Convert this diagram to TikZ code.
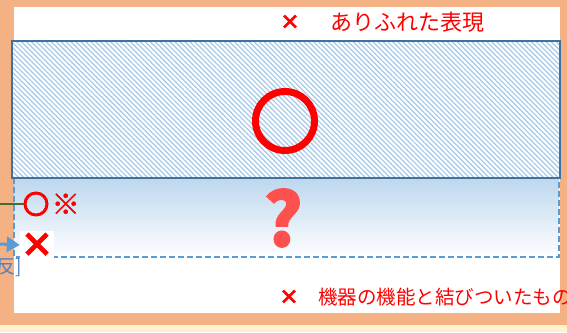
\documentclass[tikz,border=0pt]{standalone}
\usepackage{fontspec}
\usepackage{xcolor}
\usepackage{tikz}
\newfontfamily\jpfont{Noto Sans CJK JP}
\newfontfamily\jpbold{Noto Sans CJK JP}[FakeBold=1.5]
\usetikzlibrary{positioning,arrows.meta,patterns.meta}
\definecolor{frameorange}{HTML}{F4B183}
\definecolor{paleyellow}{HTML}{FFF2CC}
\definecolor{hatchblue}{HTML}{A4C8EA}
\definecolor{edgeblue}{HTML}{41719C}
\definecolor{dashblue}{HTML}{5B9BD5}
\definecolor{gradblue}{HTML}{BDD7EE}
\definecolor{qred}{HTML}{FF5050}
\definecolor{lineolive}{HTML}{4B6B2E}
\definecolor{labelblue}{HTML}{4F7FC7}

\begin{document}
\begin{tikzpicture}[x=1pt,y=-1pt,
			every node/.style = {inner sep=0pt, font=\jpfont},
			batsu/.style = {text=red, font=\jpbold\bfseries\fontsize{20}{20}\selectfont},
			caption/.style = {text=red, anchor=west},
			maru/.style = {circle, draw=red, fill=none}]
			\useasboundingbox (0,0) rectangle (567,332);
			\clip (0,0) rectangle (567,332);
			\fill[paleyellow] (0,0) rectangle (567,332);
			\fill[frameorange] (0,0) rectangle (567,325);
			\fill[white] (14,7) rectangle (560,313);
			\shade[top color=gradblue, bottom color=white] (14,178) rectangle (559,257);
			\draw[dashblue, line width=2pt, dash pattern=on 6pt off 3pt] (14,178) -- (14,257) -- (559,257) -- (559,178);
			\fill[white] (12,41) rectangle (560,178);
			\fill[pattern={Lines[angle=-45,distance=3.5pt,line width=1.2pt]}, pattern color=hatchblue] (12,41) rectangle (560,178);
			\draw[edgeblue, line width=2pt] (12,41) rectangle (560,178);
			\node[maru, line width=7pt, minimum size=59pt] (bigmaru) at (285,121) {};
			\node[text=qred, font=\jpbold\bfseries\fontsize{74}{74}\selectfont] (hatena) at (283,218) {?};
			\node[maru, line width=3pt, minimum size=22pt] (smallmaru) at (36,204) {};
			\node[text=red, font=\jpbold\bfseries\fontsize{28}{28}\selectfont, right=3pt of smallmaru] (kome) {※};
			\node[fill=white, minimum width=32pt, minimum height=28pt,
				text=red, font=\jpbold\bfseries\fontsize{34}{34}\selectfont] (batsubox) at (37,245) {×};
			\coordinate (greenstart) at (0,204);
			\coordinate (arrowstart) at (0,244);
			\draw[lineolive, line width=2pt] (greenstart) -- (smallmaru.west);
			\draw[dashblue, line width=3pt, -{Triangle[length=13pt,width=15pt]}] (arrowstart) -- (batsubox.west);
			\node[text=labelblue, anchor=east, font=\jpfont\fontsize{19}{19}\selectfont] (hanlabel) at (22,268) {反]};
			\node[batsu] (topbatsu) at (290,22) {×};
			\node[caption, font=\jpfont\fontsize{22}{22}\selectfont] (toptext) at (330,22) {ありふれた表現};
			\node[batsu] (bottombatsu) at (289,297) {×};
			\node[caption, font=\jpfont\fontsize{19.5}{19.5}\selectfont] (bottomtext) at (318,297) {機器の機能と結びついたもの};
\end{tikzpicture}
\end{document}
